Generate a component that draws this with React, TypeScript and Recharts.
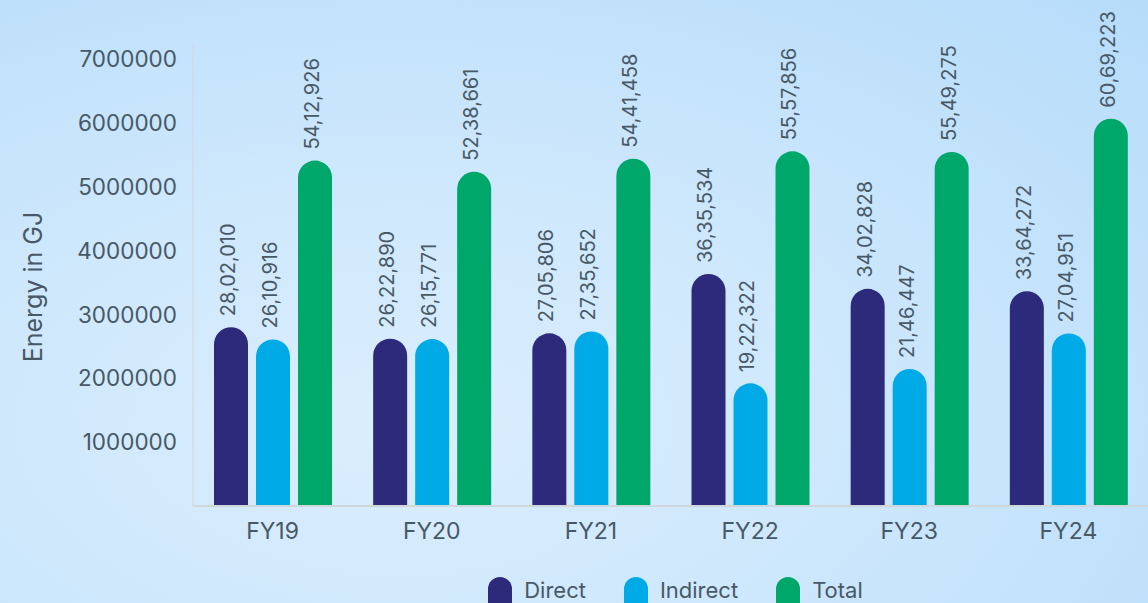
import { Bar, BarChart, LabelList, XAxis, YAxis } from "recharts";

const years = ["FY19", "FY20", "FY21", "FY22", "FY23", "FY24"];
const direct = [2802010, 2622890, 2705806, 3635534, 3402828, 3364272];
const indirect = [2610916, 2615771, 2735652, 1922322, 2146447, 2704951];
const total = [5412926, 5238661, 5441458, 5557856, 5549275, 6069223];
const yTicks = [1000000, 2000000, 3000000, 4000000, 5000000, 6000000, 7000000];

const series = [
  { key: "direct", name: "Direct", color: "#2e2a7b" },
  { key: "indirect", name: "Indirect", color: "#00aae6" },
  { key: "total", name: "Total", color: "#00a76b" },
];

const textColor = "#475966";
const font = "Inter, 'Noto Sans', sans-serif";

function chartData() {
  return years.map((year, i) => ({
    year,
    direct: direct[i],
    indirect: indirect[i],
    total: total[i],
  }));
}

function ValueLabel(props: any) {
  const { x, y, width, value } = props;
  const cx = x + width / 2 - 3;
  const cy = y - 11;
  return (
    <text
      x={cx}
      y={cy}
      transform={`rotate(-90, ${cx}, ${cy})`}
      textAnchor="start"
      dominantBaseline="central"
      fill={textColor}
      fontSize={20}
      fontFamily={font}
    >
      {Number(value).toLocaleString("en-IN")}
    </text>
  );
}

function AxisTitle() {
  return (
    <text
      x={33}
      y={287}
      transform="rotate(-90, 33, 287)"
      textAnchor="middle"
      dominantBaseline="central"
      fill={textColor}
      fontSize={25}
      fontFamily={font}
    >
      Energy in GJ
    </text>
  );
}

function ChartLegend() {
  return (
    <div
      style={{
        position: "absolute",
        top: 576,
        left: 0,
        width: 1148,
        display: "flex",
        justifyContent: "center",
        paddingLeft: 203,
        boxSizing: "border-box",
        fontFamily: font,
        fontSize: 22,
        color: textColor,
      }}
    >
      {series.map((s) => (
        <div
          key={s.key}
          style={{ display: "flex", alignItems: "flex-start", margin: "0 19px" }}
        >
          <span
            style={{
              width: 24,
              height: 34,
              background: s.color,
              borderRadius: "12px 12px 0 0",
              marginRight: 12,
              marginTop: 1,
            }}
          />
          <span style={{ lineHeight: "28px" }}>{s.name}</span>
        </div>
      ))}
    </div>
  );
}

export default function App() {
  return (
    <div
      style={{
        position: "absolute",
        top: 0,
        left: 0,
        width: 1148,
        height: 603,
        overflow: "hidden",
        background:
          "radial-gradient(ellipse at 35% 70%, #dbeefd 0%, #cde7fc 45%, #b6dcfa 100%)",
      }}
    >
      <BarChart
        width={1148}
        height={603}
        data={chartData()}
        margin={{ top: 44, right: 0, left: 0, bottom: 47 }}
        barSize={34}
        barGap={8}
      >
        <XAxis
          dataKey="year"
          tickLine={false}
          axisLine={{ stroke: "#cfd6dc", strokeWidth: 2 }}
          tick={{ fill: textColor, fontSize: 23, fontFamily: font }}
          tickMargin={11}
          height={50}
        />
        <YAxis
          domain={[0, 7240000]}
          ticks={yTicks}
          interval={0}
          tickLine={false}
          axisLine={{ stroke: "#cfd6dc", strokeWidth: 1 }}
          tick={{ fill: textColor, fontSize: 22.5, fontFamily: font }}
          tickMargin={10}
          width={193}
          label={<AxisTitle />}
        />
        {series.map((s) => (
          <Bar
            key={s.key}
            dataKey={s.key}
            name={s.name}
            fill={s.color}
            radius={[17, 17, 0, 0]}
            isAnimationActive={false}
          >
            <LabelList dataKey={s.key} content={<ValueLabel />} />
          </Bar>
        ))}
      </BarChart>
      <ChartLegend />
    </div>
  );
}
